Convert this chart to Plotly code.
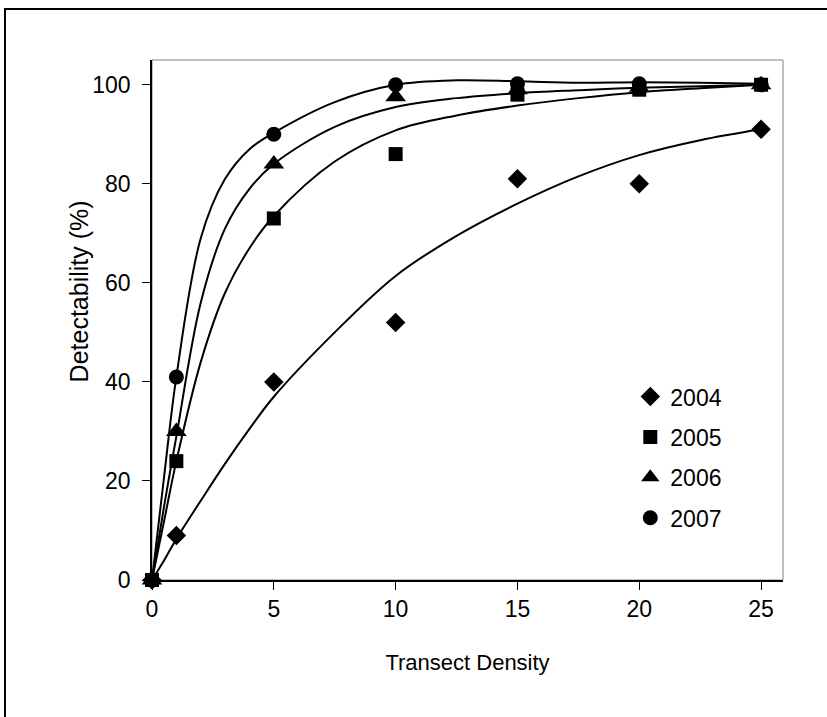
import plotly.graph_objects as go

# Observed data
x_pts = [0, 1, 5, 10, 15, 20, 25]
y2004 = [0, 9, 40, 52, 81, 80, 91]
y2005 = [0, 24, 73, 86, 98, 99, 100]
y2006 = [0, 30, 84, 97.6, 99, 99.5, 100]
y2007 = [0, 41, 90, 100, 100.2, 100.2, 100]

# Fitted curves
x_fit = [0, 0.5, 1, 2, 3, 4, 5, 7.5, 10, 12.5, 15, 17.5, 20, 22.5, 25]
fit2004 = [0, 4, 8.3, 16, 23.5, 30.5, 37, 50, 61.4, 69.5, 76, 81.5, 85.8, 88.8, 91]
fit2005 = [0, 12, 24, 44, 58, 67, 73.5, 84.5, 90.8, 93.8, 95.8, 97.3, 98.5, 99.3, 100]
fit2006 = [0, 15, 29, 56, 71, 79, 84, 91.5, 95.5, 97.3, 98.3, 98.9, 99.4, 99.7, 100]
fit2007 = [0, 21, 41, 69, 81, 87, 90.3, 96.5, 100, 100.9, 100.7, 100.4, 100.5, 100.4, 100.2]

years = ["2004", "2005", "2006", "2007"]
symbols = ["diamond", "square", "triangle-up", "circle"]
sizes = [15, 14, 18, 15]
obs = [y2004, y2005, y2006, y2007]
fits = [fit2004, fit2005, fit2006, fit2007]

FONT = "Liberation Sans, Arial, sans-serif"

fig = go.Figure()
for f in fits:
    fig.add_trace(go.Scatter(x=x_fit, y=f, mode="lines", line=dict(color="black", width=2, shape="spline", smoothing=1.0),
                             showlegend=False, hoverinfo="skip", cliponaxis=False))
for yr, sym, sz, o in zip(years, symbols, sizes, obs):
    fig.add_trace(go.Scatter(x=x_pts, y=o, mode="markers", name=yr,
                             marker=dict(symbol=sym, size=sz, color="black", line=dict(width=0)),
                             cliponaxis=False, legendgroup=yr))

fig.update_layout(
    width=827, height=717,
    margin=dict(l=152, r=44, t=60, b=137),
    paper_bgcolor="white", plot_bgcolor="white",
    font=dict(family=FONT, color="black", size=23),
    showlegend=True,
    legend=dict(x=0.758, y=0.394, xanchor="left", yanchor="top", bgcolor="rgba(0,0,0,0)",
                font=dict(size=23, family=FONT), tracegroupgap=7.5, itemwidth=30, traceorder="grouped"),
    xaxis=dict(range=[0, 25.9], tickmode="array", tickvals=[0, 5, 10, 15, 20, 25],
               showline=True, linecolor="black", linewidth=1.5, ticks="outside", ticklen=8,
               tickcolor="black", tickwidth=1, showgrid=False, zeroline=False,
               tickfont=dict(size=23, family=FONT),
               title=dict(text="Transect Density", font=dict(size=22, family=FONT), standoff=33)),
    yaxis=dict(range=[0, 105], tickmode="array", tickvals=[0, 20, 40, 60, 80, 100],
               showline=True, linecolor="black", linewidth=1.5, ticks="outside", ticklen=8,
               tickcolor="black", tickwidth=1, showgrid=False, zeroline=False,
               tickfont=dict(size=23, family=FONT), ticklabelstandoff=7),
    annotations=[
        dict(text="Detectability (%)", xref="paper", yref="paper", x=-0.1157, y=0.555,
             xanchor="center", yanchor="middle", textangle=-90, showarrow=False,
             font=dict(size=25, family=FONT, color="black")),
    ],
    shapes=[
        dict(type="rect", xref="paper", yref="paper", x0=0, y0=0, x1=1, y1=1,
             line=dict(color="#808080", width=1), layer="below"),
        dict(type="rect", xref="paper", yref="paper", x0=-0.233, y0=1.098, x1=1.3, y1=-0.4,
             line=dict(color="black", width=2), layer="above"),
    ],
)

fig.write_html("out.html", config={"displayModeBar": False},
               post_script="document.body.style.margin='0px';")
